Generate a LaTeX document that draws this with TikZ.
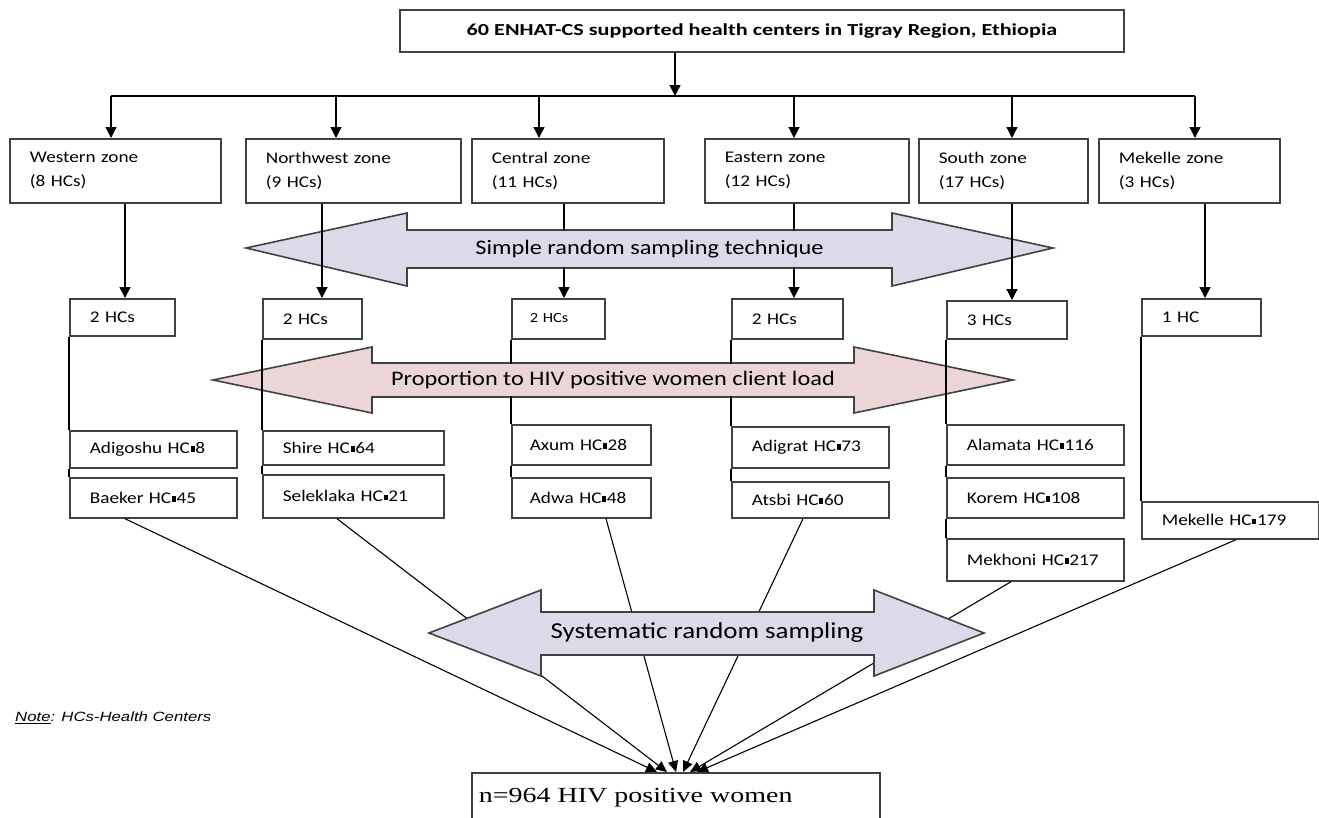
\documentclass[tikz,border=0pt]{standalone}
\usepackage{fontspec}
\setmainfont{Carlito}[FakeStretch=1.18]
\newfontfamily\calwide{Carlito}[FakeStretch=1.32]
\newfontfamily\tnr{Liberation Serif}[FakeStretch=1.3]
\newfontfamily\arl{Liberation Sans}[FakeStretch=1.25]
\usetikzlibrary{arrows.meta,calc}
\definecolor{lav}{RGB}{221,217,233}
\definecolor{rosy}{RGB}{236,213,214}
\definecolor{edgec}{RGB}{65,65,65}
\newcommand\sqb{\kern0.6pt\rule[1.8pt]{4pt}{5.5pt}\kern0.8pt}
\tikzset{
  bx/.style={draw=edgec, line width=1.7pt, fill=white, anchor=north west,
    inner xsep=20pt, inner ysep=0pt, align=left,
    font=\fontsize{16.3}{24}\selectfont},
  conn/.style={draw=black, line width=1.3pt},
  arr/.style={conn, -{Triangle[length=11pt,width=11pt]}},
  arrs/.style={conn, line width=1.1pt, -{Triangle[length=11pt,width=10pt]}},
  fat/.style={draw=edgec, line width=1.6pt, fill=#1, line join=miter},
  fatlbl/.style={fill=#1, inner sep=0pt, font=\fontsize{20.6}{24}\selectfont}
}
\begin{document}
\begin{tikzpicture}[x=1pt,y=-1pt]
\useasboundingbox (0,0) rectangle (1319,817);
\clip (0,0) rectangle (1319,817);

% column coordinates
\coordinate (t0) at (675,96);
\coordinate (a1) at (111,96);
\coordinate (a2) at (336,96);
\coordinate (a3) at (539,96);
\coordinate (a4) at (794,96);
\coordinate (a5) at (1012,96);
\coordinate (a6) at (1195,96);
\coordinate (b1) at (125,0);
\coordinate (b2) at (322,0);
\coordinate (b3) at (564,0);
\coordinate (b4) at (794,0);
\coordinate (b5) at (1012,0);
\coordinate (b6) at (1205,0);

% top box
\node[draw=edgec, line width=1.7pt, minimum width=724, minimum height=42,
  inner sep=0pt, font=\calwide\fontsize{16.8}{20}\selectfont\bfseries] (top) at (762,31)
  {60 ENHAT-CS supported health centers in Tigray Region, Ethiopia};

% zone boxes
\node[bx, text width=171pt, minimum height=64] (wz) at (9,138) {Western zone\\(8 HCs)};
\node[bx, text width=175pt, minimum height=64] (nz) at (245,138) {Northwest zone\\(9 HCs)};
\node[bx, text width=152pt, minimum height=64] (cz) at (471,138) {Central zone\\(11 HCs)};
\node[bx, text width=164pt, minimum height=64] (ez) at (704,138) {Eastern zone\\(12 HCs)};
\node[bx, text width=129pt, minimum height=64] (sz) at (918,138) {South zone\\(17 HCs)};
\node[bx, text width=141pt, minimum height=64] (mz) at (1098,138) {Mekelle zone\\(3 HCs)};

% connectors top
\draw[arr] (top.south -| t0) -- (t0);
\draw[conn] (a1) -- (a6);
\foreach \c/\z in {a1/wz,a2/nz,a3/cz,a4/ez,a5/sz,a6/mz}
  \draw[arr] (\c) -- (\z.north -| \c);

% sub boxes
\node[bx, text width=65pt, minimum height=37] (ws) at (69,298) {2 HCs};
\node[bx, text width=59pt, minimum height=40] (ns) at (262,298) {2 HCs};
\node[bx, text width=57pt, minimum height=40, inner xsep=18pt,
  font=\fontsize{14}{16}\selectfont] (cs) at (511,298) {\raisebox{2pt}{2 HCs}};
\node[bx, text width=71pt, minimum height=40] (es) at (731,298) {2 HCs};
\node[bx, text width=80pt, minimum height=38] (ss) at (946,300) {3 HCs};
\node[bx, text width=79pt, minimum height=37] (ms) at (1141,298) {1 HC};

% HC boxes
\node[bx, text width=127pt, minimum height=37] (h1) at (69,430) {Adigoshu HC\sqb8};
\node[bx, text width=127pt, minimum height=40] (h2) at (69,477) {Baeker HC\sqb45};
\node[bx, text width=141pt, minimum height=34] (h3) at (262,430) {Shire HC\sqb64};
\node[bx, text width=141pt, minimum height=43] (h4) at (262,474) {Seleklaka HC\sqb21};
\node[bx, text width=103pt, minimum height=40, inner xsep=18pt] (h5) at (511,424) {Axum HC\sqb28};
\node[bx, text width=103pt, minimum height=40, inner xsep=18pt] (h6) at (511,477) {Adwa HC\sqb48};
\node[bx, text width=117pt, minimum height=41] (h7) at (731,426) {Adigrat HC\sqb73};
\node[bx, text width=117pt, minimum height=36] (h8) at (731,481) {Atsbi HC\sqb60};
\node[bx, text width=137pt, minimum height=40] (h9) at (946,424) {Alamata HC\sqb116};
\node[bx, text width=137pt, minimum height=40] (h10) at (946,477) {Korem HC\sqb108};
\node[bx, text width=137pt, minimum height=42] (h11) at (946,538) {Mekhoni HC\sqb217};
\node[bx, text width=137pt, minimum height=37] (h12) at (1141,501) {Mekelle HC\sqb179};

% purple arrow: simple random sampling
\draw[fat=lav] (246,248) -- (407,213) -- (407,230) -- (892,230) -- (892,213)
  -- (1053,248) -- (892,286) -- (892,268) -- (407,268) -- (407,286) -- cycle;
% pink arrow: proportion
\draw[fat=rosy] (213,380) -- (372,347) -- (372,363) -- (854,363) -- (854,347)
  -- (1013,380) -- (854,413) -- (854,397) -- (372,397) -- (372,413) -- cycle;

% vertical connectors zone -> sub-box
\foreach \c/\z/\s in {b1/wz/ws,b2/nz/ns,b3/cz/cs,b4/ez/es,b5/sz/ss,b6/mz/ms}
  \draw[arr] (\z.south -| \c) -- (\s.north -| \c);

% left column lines sub-box -> HC boxes
\draw[conn] (ws.south west) -- (h1.north west);
\draw[conn] (h1.south west) -- (h2.north west);
\draw[conn] (ns.south west) -- (h3.north west);
\draw[conn] (h3.south west) -- (h4.north west);
\draw[conn] (cs.south west) -- (h5.north west);
\draw[conn] (h5.south west) -- (h6.north west);
\draw[conn] (es.south west) -- (h7.north west);
\draw[conn] (h7.south west) -- (h8.north west);
\draw[conn] (ss.south west) -- (h9.north west);
\draw[conn] (h9.south west) -- (h10.north west);
\draw[conn] (h10.south west) -- (h11.north west);
\draw[conn] (ms.south west) -- (h12.north west);

% shaft labels (cover lines in the shafts)
\node[fatlbl=lav, minimum width=483, minimum height=36] (srs) at (649.5,249)
  {Simple random sampling technique};
\node[fatlbl=rosy, minimum width=480, minimum height=32] (pro) at (613,380)
  {Proportion to HIV positive women client load};

% bottom box
\node[draw=edgec, line width=1.7pt, fill=white, anchor=north west,
  minimum width=408, minimum height=50, text width=394pt, inner xsep=7pt,
  inner ysep=0pt, align=left, font=\tnr\fontsize{21.5}{24}\selectfont] (bot) at (471,772)
  {n=964 HIV positive women};

% converging lines
\draw[arrs] ($(h2.south west)+(56,0)$) -- ($(bot.north west)+(186,0)$);
\draw[arrs] ($(h4.south west)+(75,0)$) -- ($(bot.north west)+(196,0)$);
\draw[arrs] ($(h6.south west)+(95,0)$) -- ($(bot.north west)+(205,0)$);
\draw[arrs] ($(h8.south west)+(72,0)$) -- ($(bot.north west)+(212,0)$);
\draw[arrs] ($(h11.south west)+(65,0)$) -- ($(bot.north west)+(219,0)$);
\draw[arrs] ($(h12.south west)+(95,0)$) -- ($(bot.north west)+(226,0)$);

% systematic arrow (opaque)
\draw[fat=lav] (429,633) -- (541,590) -- (541,612) -- (874,612) -- (874,590)
  -- (984,633) -- (874,676) -- (874,655) -- (541,655) -- (541,676) -- cycle;
\node[inner sep=0pt, font=\fontsize{22.8}{26}\selectfont] (sys) at (707,633)
  {Systematic random sampling};

% note
\node[anchor=west, inner sep=0pt, font=\arl\itshape\fontsize{13.4}{16}\selectfont] (note) at (15,718)
  {\underline{Note}: HCs-Health Centers};
\end{tikzpicture}
\end{document}
